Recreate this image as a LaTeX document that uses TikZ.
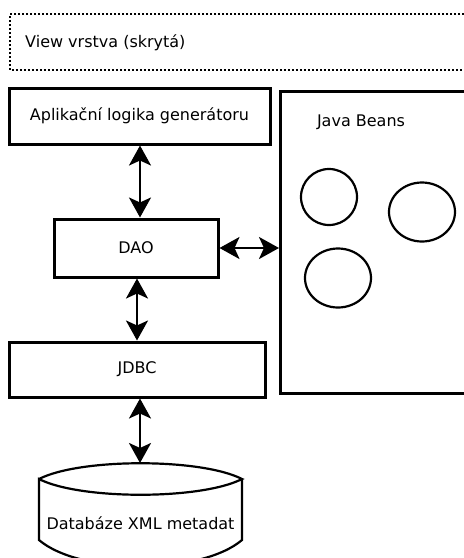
\documentclass[tikz,border=0pt]{standalone}
\usepackage{fontspec}
\setmainfont{DejaVu Sans}
\usetikzlibrary{arrows.meta,shapes.geometric}
\begin{document}
\begin{tikzpicture}[x=1pt,y=-1pt,
  font=\fontsize{16}{19}\selectfont,
  box/.style={draw,line width=3pt,inner sep=0pt},
  bean/.style={draw,ellipse,line width=2.2pt,inner sep=0pt},
  link/.style={line width=2.4pt,{Stealth[length=20pt,width=22pt,inset=5pt]}-{Stealth[length=20pt,width=22pt,inset=5pt]}}]
  \useasboundingbox (0,0) rectangle (464,558);
  % hidden view layer
  \draw[line width=2pt,dotted] (480,14) -- (10,14) -- (10,70) -- (480,70);
  \node[anchor=west,inner sep=0pt] (view) at (25,43) {View vrstva (skrytá)};
  % layers
  \node[box,minimum width=261,minimum height=56] (app) at (139.5,116) {Aplikační logika generátoru};
  \node[box,minimum width=164,minimum height=58] (dao) at (136,248) {DAO};
  \node[box,minimum width=256,minimum height=55] (jdbc) at (137,369.5) {JDBC};
  % beans container
  \node[box,anchor=north west,minimum width=200,minimum height=302] (beans) at (279,90) {};
  \node (beanslbl) at (361,122) {Java Beans};
  \node[bean,minimum width=56,minimum height=56] (b1) at (329,197) {};
  \node[bean,minimum width=66,minimum height=59] (b2) at (422,212) {};
  \node[bean,minimum width=66,minimum height=59] (b3) at (338,278) {};
  % database
  \def\dbl{39}\def\dbr{242}
  \draw[line width=2.2pt,fill=white] (\dbl,479) .. controls (80,458) and (201,458) .. (\dbr,479)
    .. controls (201,500) and (80,500) .. (\dbl,479) -- (\dbl,540)
    .. controls (80,575) and (201,575) .. (\dbr,540) -- (\dbr,479);
  \coordinate (dbtop) at (140,463);
  \node (db) at (140.5,523) {Databáze XML metadat};
  % connectors
  \draw[link] (app.south -| 140,0) -- (dao.north -| 140,0);
  \draw[link] (dao.east) -- (beans.west |- dao.east);
  \draw[link] (dao.south -| 137,0) -- (jdbc.north -| 137,0);
  \draw[link] (jdbc.south -| 140,0) -- (dbtop);
\end{tikzpicture}
\end{document}
